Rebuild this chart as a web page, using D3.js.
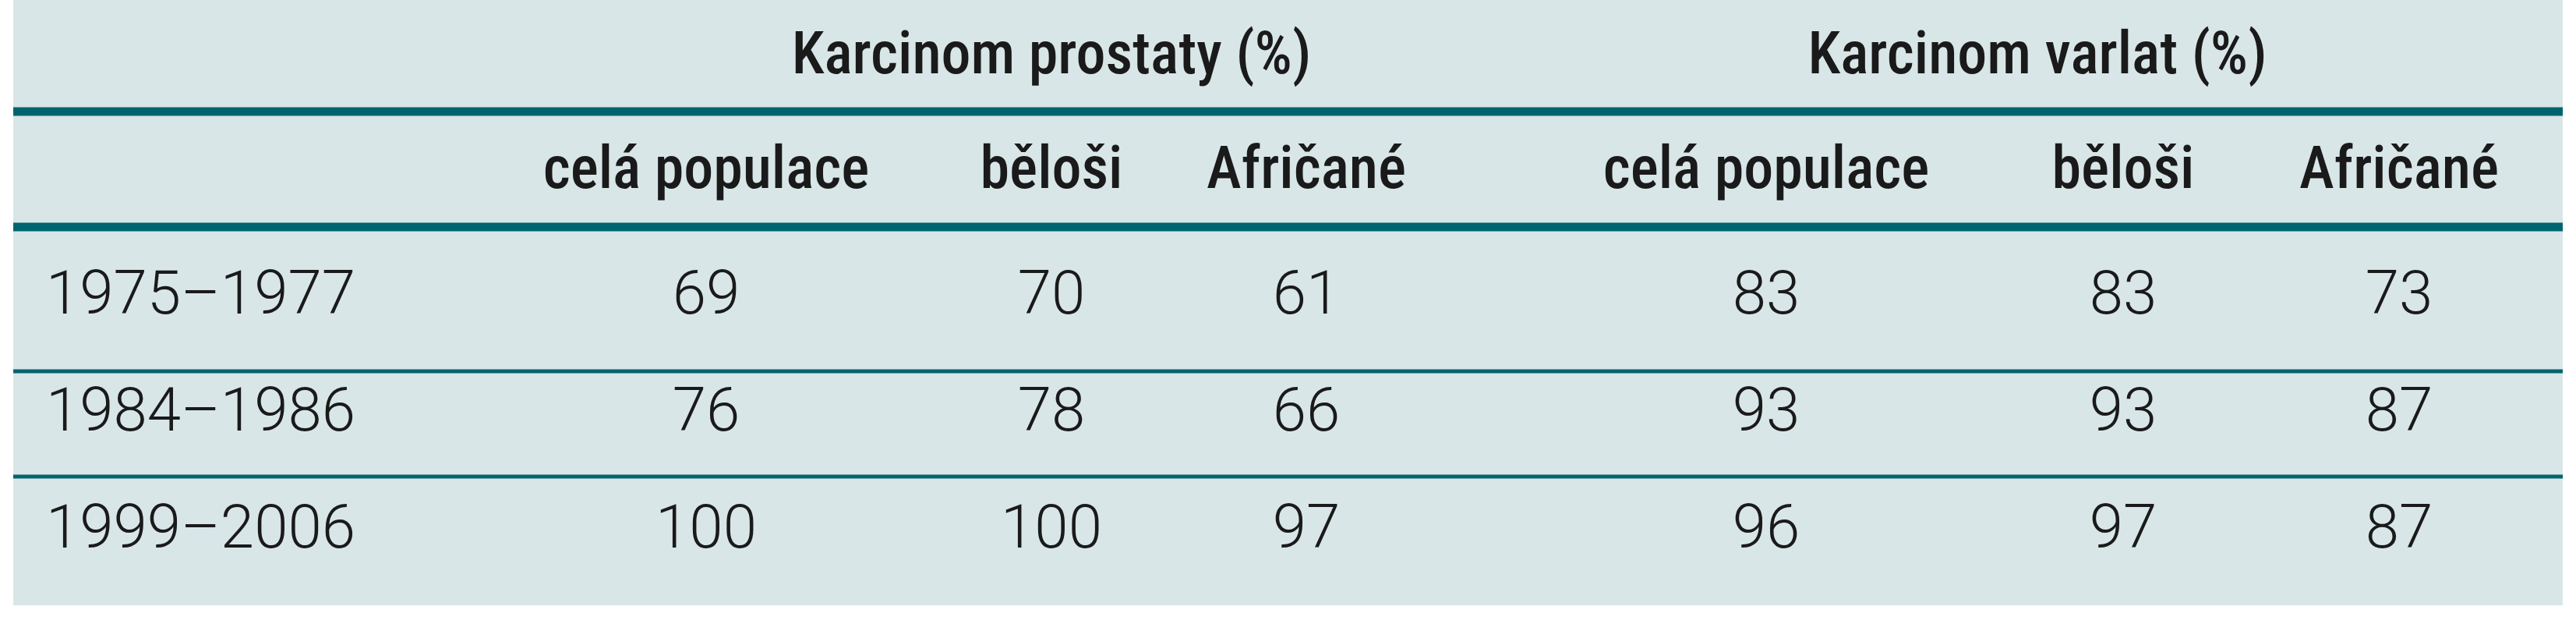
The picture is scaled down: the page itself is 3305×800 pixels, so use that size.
<!DOCTYPE html><html><head><meta charset="utf-8"><script src="https://d3js.org/d3.v7.min.js"></script>
<style>body{margin:0;background:#fff}</style></head><body><svg id="c" width="3305" height="800"></svg>
<script>
const groups=["Karcinom prostaty (%)","Karcinom varlat (%)"];
const subcols=["celá populace","běloši","Afričané","celá populace","běloši","Afričané"];
const rows=["1975–1977","1984–1986","1999–2006"];
const values=[[69,70,61,83,83,73],[76,78,66,93,93,87],[100,100,97,96,97,87]];
const svg=d3.select("#c");
const xs=[906,1349,1676,2266,2724,3078];
const colX=i=>xs[i];
const y=d3.scalePoint().domain(d3.range(3)).range([375,675]);
svg.append("rect").attr("x",17).attr("y",0).attr("width",3271).attr("height",776).attr("fill","#d8e6e8");
[[143,11],[291,11],[476,5],[611,5]].forEach(([yy,w])=>svg.append("line").attr("x1",17).attr("x2",3288).attr("y1",yy).attr("y2",yy).attr("stroke","#00646e").attr("stroke-width",w));
const hf="'Liberation Sans Narrow','Roboto Condensed',sans-serif";
svg.selectAll(".g").data(groups).join("text").attr("x",(d,i)=>i?2614:1349).attr("y",68).attr("text-anchor","middle").attr("dominant-baseline","central").attr("font-family",hf).attr("font-weight",500).attr("font-size",76).attr("fill","#1a1a1a").text(d=>d);
svg.selectAll(".s").data(subcols).join("text").attr("x",(d,i)=>colX(i)).attr("y",215).attr("text-anchor","middle").attr("dominant-baseline","central").attr("font-family",hf).attr("font-weight",500).attr("font-size",76).attr("fill","#1a1a1a").text(d=>d);
svg.selectAll(".r").data(rows).join("text").attr("x",59).attr("y",(d,i)=>y(i)).attr("dominant-baseline","central").attr("font-family","Roboto").attr("font-weight",300).attr("font-size",78).attr("fill","#1a1a1a").text(d=>d);
values.forEach((r,ri)=>svg.selectAll(".v"+ri).data(r).join("text").attr("x",(d,i)=>colX(i)).attr("y",y(ri)).attr("text-anchor","middle").attr("dominant-baseline","central").attr("font-family","Roboto").attr("font-weight",300).attr("font-size",78).attr("fill","#1a1a1a").text(d=>d));
</script></body></html>
